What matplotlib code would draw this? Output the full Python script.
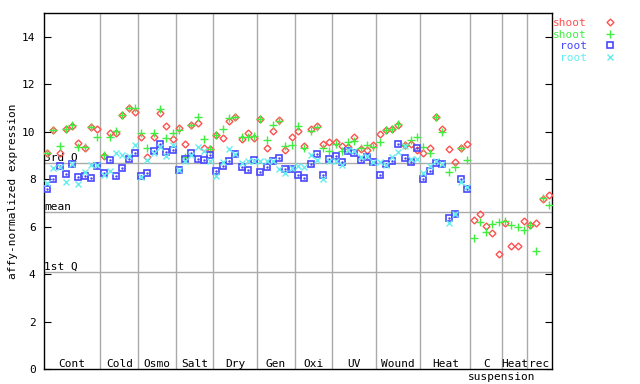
import numpy as np
import matplotlib
matplotlib.use("Agg")
import matplotlib.pyplot as plt

# groups along the x axis and how many samples each holds
groups = ['Cont', 'Cold', 'Osmo', 'Salt', 'Dry', 'Gen', 'Oxi', 'UV', 'Wound', 'Heat', 'C', 'Heat', 'rec']
group_sizes = [9, 6, 6, 6, 7, 6, 6, 7, 7, 8, 5, 4, 4]

shoot_a = [9.10, 10.05, 9.12, 10.10, 10.24, 9.54, 9.30, 10.19, 10.12,
           8.99, 9.94, 9.94, 10.69, 11.01, 10.82,
           9.78, 8.93, 9.78, 10.78, 10.25, 9.69,
           10.14, 9.49, 10.27, 10.36, 9.31, 9.27,
           9.85, 9.73, 10.44, 10.60, 9.70, 9.94, 9.73,
           10.53, 9.31, 10.04, 10.51, 9.21, 9.78,
           10.01, 9.38, 10.11, 10.25, 9.49, 9.56,
           9.56, 9.38, 9.34, 9.78, 9.28, 9.21, 9.45,
           9.90, 10.07, 10.11, 10.27, 9.45, 9.49, 9.24,
           9.10, 9.31, 10.62, 10.11, 9.28, 8.71, 9.30, 9.49,
           6.29, 6.53, 6.03, 5.73, 4.85,
           6.15, 5.19, 5.19, 6.22,
           6.06, 6.15, 7.17, 7.34]
shoot_b = [9.10, 10.08, 9.41, 10.11, 10.26, 9.37, 9.37, 10.19, 9.78,
           9.03, 9.76, 10.01, 10.72, 11.01, 11.01,
           9.94, 9.31, 9.94, 10.97, 9.73, 9.94,
           10.08, 8.93, 10.30, 10.61, 9.69, 9.27,
           9.87, 10.11, 10.58, 10.60, 9.78, 9.78, 9.83,
           10.55, 9.63, 10.30, 10.44, 9.38, 9.45,
           10.25, 9.31, 10.04, 10.20, 9.31, 9.20,
           9.48, 9.20, 9.56, 9.59, 9.31, 9.45, 9.34,
           9.56, 10.07, 10.11, 10.32, 9.42, 9.63, 9.78,
           9.35, 9.10, 10.62, 9.98, 8.31, 8.51, 9.30, 8.82,
           5.54, 6.20, 5.78, 6.10, 6.19,
           6.22, 6.06, 5.99, 5.85,
           6.06, 4.98, 7.22, 6.91]
root_a = [7.58, 8.00, 8.54, 8.22, 8.65, 8.09, 8.13, 8.05, 8.55,
          8.26, 8.79, 8.12, 8.47, 8.85, 9.10,
          8.14, 8.25, 9.20, 9.48, 9.14, 9.24,
          8.40, 8.85, 9.10, 8.85, 8.82, 9.03,
          8.34, 8.54, 8.78, 9.07, 8.50, 8.40, 8.79,
          8.30, 8.50, 8.78, 8.89, 8.42, 8.44,
          8.16, 8.04, 8.65, 9.07, 8.19, 8.85,
          8.99, 8.72, 9.20, 9.10, 8.82, 8.92, 8.72,
          8.17, 8.63, 8.75, 9.48, 8.89, 8.73, 9.31,
          8.00, 8.34, 8.68, 8.65, 6.36, 6.51, 8.00, 7.58]
root_b = [7.83, 8.47, 8.50, 7.88, 8.65, 7.80, 8.32, 8.60, 8.60,
          8.19, 8.35, 9.10, 9.03, 8.99, 9.45,
          8.09, 8.82, 9.10, 9.34, 8.99, 9.45,
          8.40, 8.75, 9.03, 9.34, 9.20, 8.78,
          8.14, 8.72, 9.27, 9.07, 8.68, 8.78, 8.78,
          8.75, 8.78, 8.78, 8.42, 8.25, 8.47,
          8.57, 8.50, 9.03, 8.82, 8.00, 8.75,
          8.75, 8.61, 9.24, 9.20, 8.92, 8.96, 8.72,
          8.72, 8.58, 8.93, 9.14, 9.40, 8.85, 8.85,
          8.25, 8.54, 8.75, 8.65, 6.15, 6.51, 7.86, 7.66]

q1, mean_val, q3 = 4.08, 6.61, 8.68

red = '#ff5050'
green = '#40ee40'
blue = '#4848ff'
cyan = '#66eeee'
font = 'DejaVu Sans Mono'

fig = plt.figure(figsize=(6.4, 3.84), dpi=100)
ax = fig.add_axes([44 / 640, 15 / 384, 508 / 640, 356 / 384])

n = len(shoot_a)
x_sh = np.arange(n)
x_rt = np.arange(len(root_a))

# group separators and labels
bounds = np.cumsum(group_sizes)
for b in bounds[:-1]:
    ax.axvline(b - 0.5, color='#aaaaaa', lw=1, zorder=1)
starts = np.concatenate([[0], bounds[:-1]])
for g, s, e in zip(groups, starts, bounds):
    ax.text((s + e - 1) / 2, 0.22, g, ha='center', va='center',
            fontsize=8, family=font)
ax.text(bounds[10] - 0.5, -0.33, 'suspension', ha='center', va='center',
        fontsize=8, family=font, clip_on=False)

# quartile lines
for val, lab in [(q3, '3rd Q'), (mean_val, 'mean'), (q1, '1st Q')]:
    ax.axhline(val, color='#aaaaaa', lw=1, zorder=1)
    ax.text(-0.5, val + 0.02, lab, ha='left', va='bottom', fontsize=8, family=font)

ax.plot(x_sh, shoot_a, ls='none', marker='D', ms=3.5, mfc='none', mec=red, mew=1, label='shoot', zorder=3)
ax.plot(x_sh, shoot_b, ls='none', marker='+', ms=6, mec=green, mew=1, label='shoot', zorder=3)
ax.plot(x_rt, root_a, ls='none', marker='s', ms=4.5, mfc='none', mec=blue, mew=1.2, label='root', zorder=3)
ax.plot(x_rt, root_a, ls='none', marker='.', ms=1.5, color=blue, zorder=3)
ax.plot(x_rt, root_b, ls='none', marker='x', ms=4.5, mec=cyan, mew=1, label='root', zorder=3)

ax.set_xlim(-0.5, n - 0.5)
ax.set_ylim(0, 15)
ax.set_xticks([])
ax.set_yticks(range(0, 15, 2))
ax.tick_params(axis='y', direction='in', length=5, right=True, pad=6, labelsize=8)
for lab in ax.get_yticklabels():
    lab.set_family(font)
for sp in ax.spines.values():
    sp.set_linewidth(1)
ax.set_ylabel('affy-normalized expression', fontsize=8, family=font, labelpad=3)

handles, labels = ax.get_legend_handles_labels()
fig.legend(handles, labels, loc='upper left', bbox_to_anchor=(553 / 640, 1 - 18 / 384),
           frameon=False, markerfirst=False, borderpad=0, borderaxespad=0,
           handlelength=1.0, handletextpad=1.6, labelspacing=0.15,
           labelcolor=[red, green, blue, cyan], prop={'family': font, 'size': 8})

fig.savefig('out.png', dpi=100)
